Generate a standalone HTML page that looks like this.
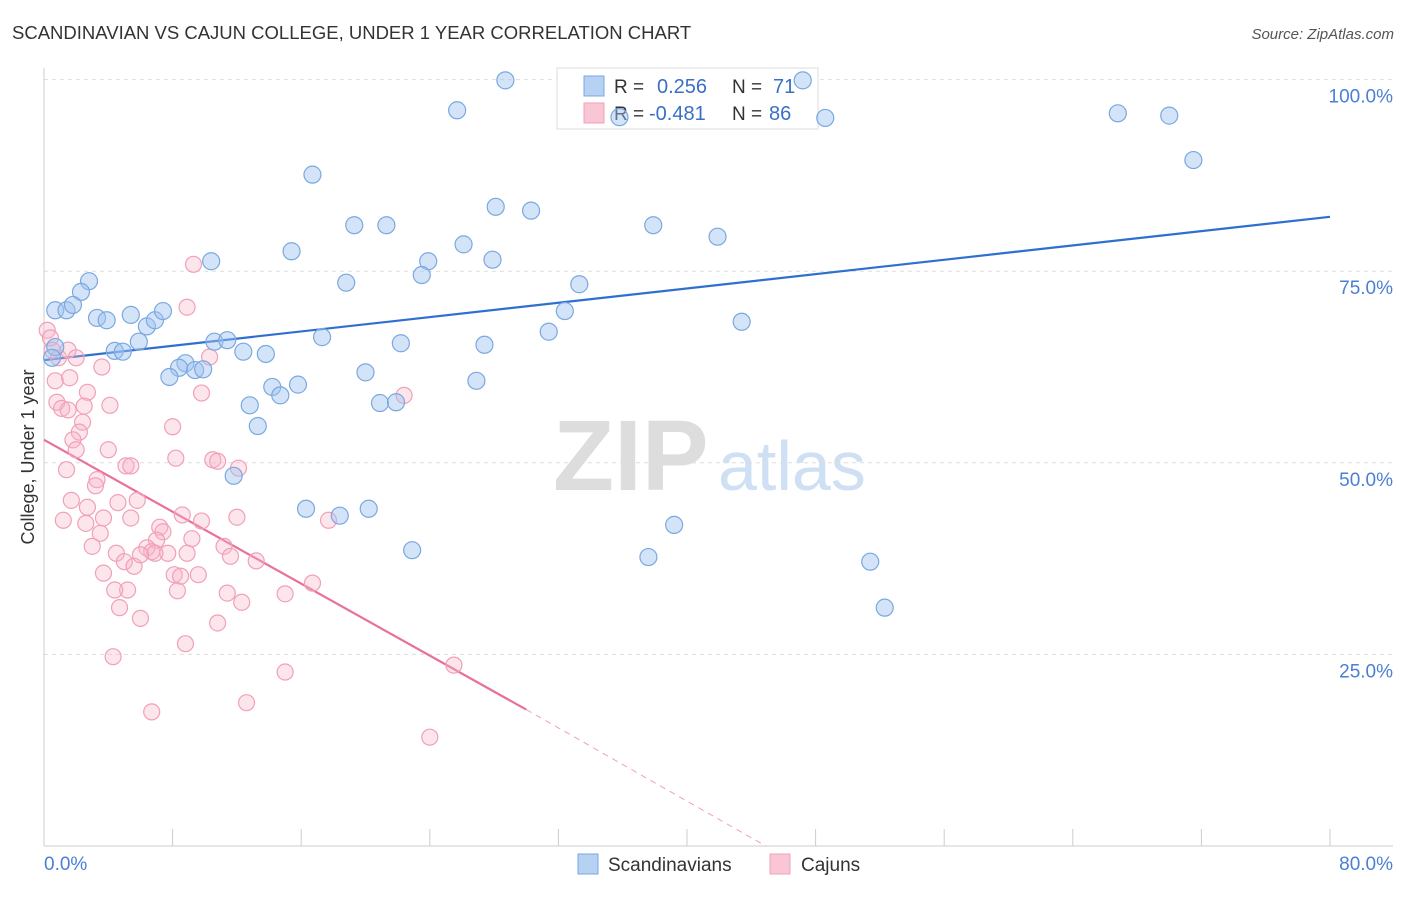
<!DOCTYPE html>
<html><head><meta charset="utf-8"><style>
body{margin:0;background:#fff;font-family:"Liberation Sans",sans-serif}
svg text{font-family:"Liberation Sans",sans-serif}
</style></head><body>
<svg id="chart" width="1406" height="892" xmlns="http://www.w3.org/2000/svg">
<text x="12" y="39" font-size="18.5" fill="#333">SCANDINAVIAN VS CAJUN COLLEGE, UNDER 1 YEAR CORRELATION CHART</text>
<text x="1394" y="39" font-size="15" fill="#555" text-anchor="end" font-style="italic">Source: ZipAtlas.com</text>
<g><text x="553" y="490" font-size="100" fill="#ddd" font-family="Liberation Serif" font-weight="bold">ZIP</text><text x="718" y="490" font-size="70" fill="#cfe0f4">atlas</text></g>
<g id="grid"></g>
<g id="axes"></g>
<g>
<rect x="557" y="68" width="261" height="61" fill="#fff" stroke="#ddd"/>
<rect x="584" y="76" width="20" height="20" fill="#b7d1f3" stroke="#7aa8e0"/>
<rect x="584" y="103" width="20" height="20" fill="#f9c6d5" stroke="#f0a0b8"/>
<text x="614" y="93" font-size="19" fill="#333">R =</text>
<text x="657" y="93" font-size="20" fill="#3a6fc8">0.256</text>
<text x="732" y="93" font-size="19" fill="#333">N =</text>
<text x="773" y="93" font-size="20" fill="#3a6fc8">71</text>
<text x="614" y="120" font-size="19" fill="#333">R =</text>
<text x="649" y="120" font-size="20" fill="#3a6fc8">-0.481</text>
<text x="732" y="120" font-size="19" fill="#333">N =</text>
<text x="769" y="120" font-size="20" fill="#3a6fc8">86</text>
</g>
<g id="lines"></g>
<g id="pts"></g>
<text transform="translate(34,457) rotate(-90)" font-size="18" fill="#333" text-anchor="middle">College, Under 1 year</text>
<g>
<rect x="578" y="854" width="20" height="20" fill="#b7d1f3" stroke="#7aa8e0"/>
<text x="608" y="871" font-size="19" fill="#333">Scandinavians</text>
<rect x="770" y="854" width="20" height="20" fill="#f9c6d5" stroke="#f0a0b8"/>
<text x="801" y="871" font-size="19" fill="#333">Cajuns</text>
</g>
</svg>
<script>
const blueX=[28.7,47.2,25.7,35.8,48.6,66.8,70.0,71.5,16.7,28.1,30.3,19.3,21.3,37.9,26.1,41.9,15.4,10.4,23.9,27.9,23.5,18.8,33.3,2.8,2.3,0.7,1.4,1.8,3.3,3.9,5.4,6.4,6.9,7.4,32.4,43.4,31.4,17.3,5.9,10.6,11.4,0.7,0.5,4.4,4.9,12.4,13.8,22.2,27.4,8.8,8.4,9.4,9.9,7.8,20.0,26.9,14.2,15.8,14.7,12.8,20.9,21.9,13.3,11.8,16.3,18.4,20.2,22.9,39.2,37.6,51.4,52.3];
const blueY=[99.9,99.9,96.0,95.1,95.0,95.6,95.3,89.5,87.6,83.4,82.9,81.0,81.0,81.0,78.5,79.5,77.6,76.3,76.3,76.5,74.5,73.5,73.3,73.7,72.3,69.9,69.9,70.6,68.9,68.6,69.3,67.8,68.6,69.8,69.8,68.4,67.1,66.4,65.8,65.8,66.0,65.1,63.7,64.6,64.5,64.5,64.2,65.6,65.4,63.0,62.4,62.1,62.2,61.2,61.8,60.7,59.9,60.2,58.8,57.5,57.8,57.9,54.8,48.3,44.0,43.1,44.0,38.6,41.9,37.7,37.1,31.1];
const pinkX=[0.2,0.4,0.5,0.9,1.5,2.0,0.7,1.6,3.6,2.7,0.8,1.1,1.5,2.5,4.1,2.4,2.2,1.8,2.0,4.0,1.4,3.3,3.2,5.1,5.4,1.7,2.7,5.8,4.6,3.7,5.4,2.6,3.5,3.0,4.5,5.0,5.6,3.7,5.2,4.4,4.7,6.0,4.3,6.7,9.3,8.9,10.3,9.8,8.0,8.2,10.5,10.8,12.1,8.6,9.8,12.0,7.2,7.4,7.0,6.4,6.7,7.7,9.2,11.2,8.9,11.6,13.2,8.1,8.5,9.6,8.3,11.4,12.3,10.8,8.8,15.0,16.7,17.7,22.4,25.5,15.0,12.6,24.0,6.9,6.0,1.2];
const pinkY=[67.3,66.3,64.7,63.7,64.7,63.7,60.7,61.1,62.5,59.2,57.9,57.1,56.9,57.4,57.5,55.3,54.0,53.0,51.7,51.7,49.1,47.8,47.0,49.6,49.6,45.1,44.2,45.1,44.8,42.8,42.8,42.1,40.8,39.1,38.2,37.1,36.5,35.6,33.4,33.4,31.1,29.7,24.7,17.5,75.9,70.3,63.8,59.1,54.7,50.6,50.4,50.2,49.3,43.2,42.4,42.9,41.6,41.0,39.9,38.9,38.4,38.2,40.1,39.1,38.2,37.8,37.2,35.4,35.2,35.4,33.3,33.0,31.8,29.1,26.4,32.9,34.3,42.5,58.8,23.6,22.7,18.7,14.2,38.2,38.0,42.5];
const yTicks=[25,50,75,100];
const yTickLabels=["25.0%","50.0%","75.0%","100.0%"];
const xTicks=[0,8,16,24,32,40,48,56,64,72,80];
const blueTrend=[[0,63.4],[80,82.1]];
const pinkTrend=[[0,53.0],[30,17.8]];
const pinkDash=[[30,17.8],[44.9,0]];
const NS="http://www.w3.org/2000/svg";
const sx=v=>44+v*16.075, sy=v=>846-v*7.664;
function mk(tag,at,parent){const e=document.createElementNS(NS,tag);for(const k in at)e.setAttribute(k,at[k]);parent.appendChild(e);return e;}
const grid=document.getElementById('grid'),axes=document.getElementById('axes'),lines=document.getElementById('lines'),pts=document.getElementById('pts');
yTicks.forEach((t,i)=>{
 const l=mk('line',{x1:44,x2:1393,y1:sy(t),y2:sy(t),stroke:'#ddd','stroke-dasharray':'4,4'},grid);
 
 
 const tx=mk('text',{x:1393,y:sy(t)+23,'font-size':19,fill:'#4a7fd4','text-anchor':'end'},axes);
 tx.textContent=yTickLabels[i];
 
 
});
mk('line',{x1:44,x2:1393,y1:sy(0),y2:sy(0),stroke:'#ccc'},axes);
mk('line',{x1:44,x2:44,y1:68,y2:846,stroke:'#ccc'},axes);
xTicks.forEach(t=>{
 const l=mk('line',{x1:sx(t),x2:sx(t),y1:829,y2:846,stroke:'#ccc'},axes);
 
 
});
const x0=mk('text',{x:44,y:870,'font-size':19,fill:'#4a7fd4'},axes);x0.textContent='0.0%';


const x1=mk('text',{x:1393,y:870,'font-size':19,fill:'#4a7fd4','text-anchor':'end'},axes);x1.textContent='80.0%';


pinkX.forEach((v,i)=>{
 const c=mk('circle',{cx:sx(v),cy:sy(pinkY[i]),r:8,fill:'rgba(248,180,200,0.35)',stroke:'#f0a0b8','stroke-width':1.2},pts);
 
 
});
blueX.forEach((v,i)=>{
 const c=mk('circle',{cx:sx(v),cy:sy(blueY[i]),r:8.5,fill:'rgba(160,196,240,0.45)',stroke:'#7aa8e0','stroke-width':1.2},pts);
 
 
});
const bl=mk('line',{x1:sx(blueTrend[0][0]),y1:sy(blueTrend[0][1]),x2:sx(blueTrend[1][0]),y2:sy(blueTrend[1][1]),stroke:'#2f6fd0','stroke-width':2.2},lines);


const pl=mk('line',{x1:sx(pinkTrend[0][0]),y1:sy(pinkTrend[0][1]),x2:sx(pinkTrend[1][0]),y2:sy(pinkTrend[1][1]),stroke:'#e8709a','stroke-width':2.2},lines);


const pd=mk('line',{x1:sx(pinkDash[0][0]),y1:sy(pinkDash[0][1]),x2:sx(pinkDash[1][0]),y2:sy(pinkDash[1][1]),stroke:'#f0a0b8','stroke-width':1,'stroke-dasharray':'6,5'},lines);


</script>
</body></html>
